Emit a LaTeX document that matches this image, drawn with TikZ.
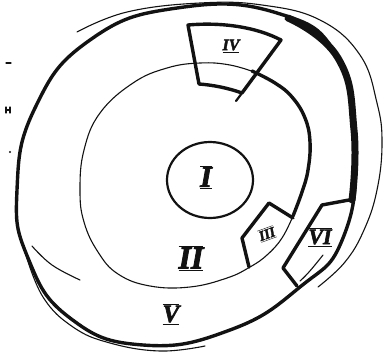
\documentclass[tikz,border=0pt]{standalone}
\usepackage{fontspec}
\usetikzlibrary{calc}
\newfontfamily\sketchfont{Liberation Serif}[FakeBold=2.5]
\definecolor{inkblack}{RGB}{18,18,18}

\tikzset{
  pen/.style={inkblack, line cap=round, line join=round},
  thinpen/.style={pen, line width=1.1pt},
  midpen/.style={pen, line width=2.2pt},
  thickpen/.style={pen, line width=3.4pt},
  heavypen/.style={pen, line width=7pt},
  zonelabel/.style={inkblack, inner sep=0pt},
}
\newcommand{\zone}[1]{$\overline{\underline{\mbox{#1}}}$}
\newcommand{\zonefont}[1]{\fontsize{#1}{#1}\sketchfont\bfseries\itshape}

\begin{document}
\begin{tikzpicture}[x=1pt, y=-1pt]

  \useasboundingbox (0,0) rectangle (389,360);

  % Randmarken links
  \draw[thinpen] (6,63) -- (11,63);
  \draw[thinpen] (6,107) -- (6,113) (10,107) -- (10,113) (6,110) -- (10,110);
  \fill[inkblack] (10,152) circle (1.2);

  % aeusserer Ring (V)
  \draw[thickpen] plot[smooth cycle, tension=0.8] coordinates
    {(17,190) (35,108) (90,40) (177,8) (277,13) (338,58) (355,150)
     (343,238) (300,287) (230,330) (143,345) (70,318) (28,258)};
  \draw[heavypen] plot[smooth, tension=0.8] coordinates
    {(288,18) (338,58) (354,130) (352,200)};
  % Nebenstriche
  \draw[thinpen] plot[smooth, tension=0.7] coordinates
    {(77,32) (127,12) (200,3) (262,5) (320,20) (360,55) (377,103)
     (382,143) (377,190) (364,230) (345,262) (318,287)};
  \draw[thinpen] plot[smooth, tension=0.7] coordinates
    {(25,252) (43,297) (73,327) (110,343) (160,351) (205,346)};
  \draw[thinpen] plot[smooth, tension=0.7] coordinates
    {(32,246) (52,265) (80,280)};

  % Ring II
  \draw[thinpen] plot[smooth, tension=0.7] coordinates
    {(293,216) (282,238) (267,255) (250,267) (227,278) (190,287) (150,286)
     (118,274) (98,252) (84,222) (80,190) (84,150) (100,113) (133,83)
     (167,68) (200,63) (230,65) (257,73)};
  \draw[thickpen] plot[smooth, tension=0.7] coordinates
    {(252,71) (275,83) (292,97) (305,118) (310,142) (308,170) (302,192) (293,216)};

  % Kern I
  \draw[midpen] (210,180) ellipse [x radius=43, y radius=38];

  % Feld IV
  \draw[thickpen] (188,25) .. controls (222,22) and (256,27) .. (281,40)
    -- (242,93) .. controls (228,88) and (213,85) .. (199,84) -- cycle;
  \draw[midpen] (242,93) -- (236,101);

  % Feld III
  \draw[thickpen] (249,267) -- (242,238) -- (269,203) -- (293,218);

  % Feld VI
  \draw[thickpen] (297,286) -- (283,268) -- (322,205) -- (349,200);
  \draw[thinpen] (323,255) .. controls (315,265) and (308,274) .. (300,281);

  % Beschriftungen
  \node[zonelabel, font=\zonefont{30}] (lblI) at (206,177) {\zone{I}};
  \node[zonelabel, font=\zonefont{32}] (lblII) at (191,258) {\zone{II}};
  \node[zonelabel, font=\zonefont{16}] (lblIV) at (231,46) {$\underline{\mbox{IV}}$};
  \node[zonelabel, font=\zonefont{14}, rotate=20] (lblIII) at (267,234) {\zone{III}};
  \node[zonelabel, font=\zonefont{22}] (lblVI) at (320,237) {\zone{VI}};
  \node[zonelabel, font=\zonefont{25}] (lblV) at (171,314) {\zone{V}};

\end{tikzpicture}
\end{document}
